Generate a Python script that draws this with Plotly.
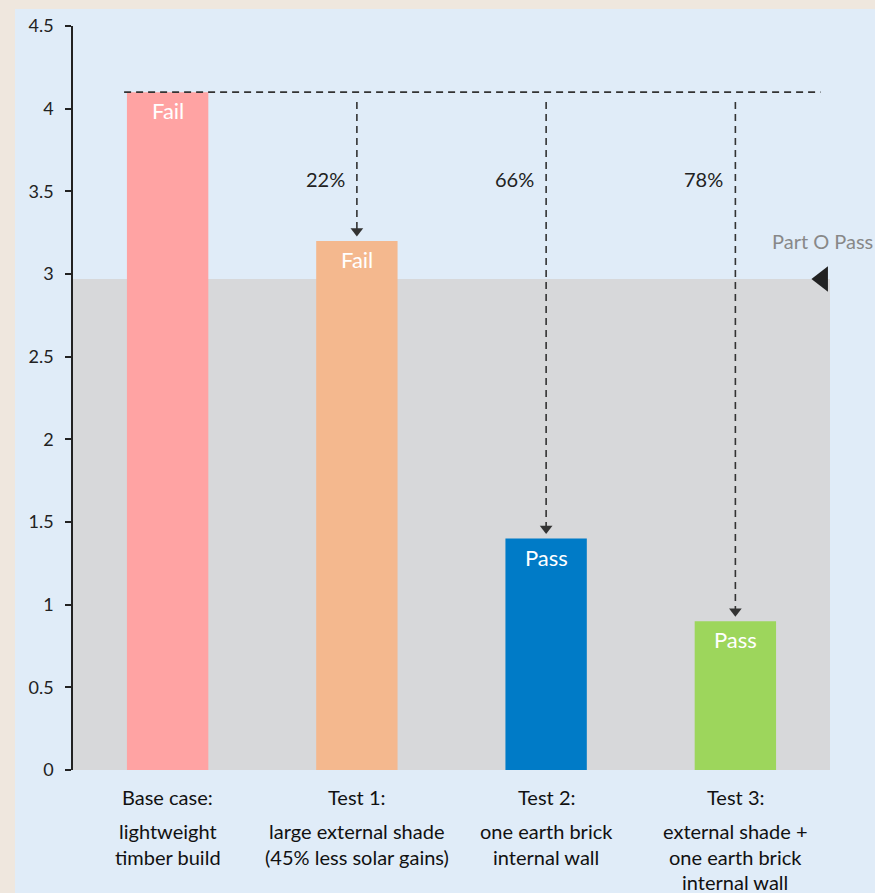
import plotly.graph_objects as go

categories = ["Base case", "Test 1", "Test 2", "Test 3"]
values = [4.1, 3.2, 1.4, 0.9]
bar_colors = ["#ffa3a3", "#f4b88e", "#007bc7", "#9dd65c"]
status = ["Fail", "Fail", "Pass", "Pass"]
reductions = ["", "22%", "66%", "78%"]
label_titles = ["Base case:", "Test 1:", "Test 2:", "Test 3:"]
label_desc = [
    ["lightweight", "timber build"],
    ["large external shade", "(45% less solar gains)"],
    ["one earth brick", "internal wall"],
    ["external shade +", "one earth brick", "internal wall"],
]
threshold = 2.97
threshold_label = "Part O Pass"
y_ticks = [0, 0.5, 1, 1.5, 2, 2.5, 3, 3.5, 4, 4.5]
y_ticktext = ["0", "0.5", "1", "1.5", "2", "2.5", "3", "3.5", "4", "4.5"]

FONT = "Lato"
xs = list(range(len(categories)))

fig = go.Figure()
fig.add_trace(go.Bar(x=xs, y=values, marker=dict(color=bar_colors, line=dict(width=0)),
                     width=0.43, showlegend=False, hoverinfo="skip"))

# horizontal dashed line at base value
fig.add_trace(go.Scatter(x=[-0.23, 3.45], y=[values[0], values[0]], mode="lines",
                         line=dict(color="#333333", width=1.6, dash="7px,5px"),
                         showlegend=False, hoverinfo="skip"))
# vertical dashed arrows
for i in range(1, len(values)):
    fig.add_trace(go.Scatter(x=[xs[i], xs[i]], y=[values[0] - 0.06, values[i] + 0.07], mode="lines",
                             line=dict(color="#333333", width=1.6, dash="7px,5px"),
                             showlegend=False, hoverinfo="skip"))
    fig.add_trace(go.Scatter(x=[xs[i]], y=[values[i] + 0.06], mode="markers",
                             marker=dict(symbol="triangle-down", size=11, color="#333333"),
                             showlegend=False, hoverinfo="skip", cliponaxis=False))
    fig.add_annotation(x=xs[i], y=3.575, text=reductions[i], showarrow=False,
                       xanchor="right", xshift=-10, font=dict(family=FONT, size=20, color="#222222"))

# threshold marker
fig.add_trace(go.Scatter(x=[3.46], y=[threshold], mode="markers",
                         marker=dict(symbol="triangle-left", size=22, color="#222222"),
                         showlegend=False, hoverinfo="skip", cliponaxis=False))
fig.add_annotation(x=3.185, y=3.2, text=threshold_label, showarrow=False, xanchor="left",
                   font=dict(family=FONT, size=20, color="#888888"))

# status labels in bars
for i, v in enumerate(values):
    fig.add_annotation(x=xs[i], y=v, text=status[i], showarrow=False, yanchor="top", yshift=-3,
                       font=dict(family=FONT, size=22, color="white"))

# category labels
for i in xs:
    fig.add_annotation(x=xs[i], y=0, yref="paper", text=label_titles[i], showarrow=False,
                       yanchor="middle", yshift=-27, font=dict(family=FONT, size=20, color="#111111"))
    for j, line in enumerate(label_desc[i]):
        fig.add_annotation(x=xs[i], y=0, yref="paper", text=line, showarrow=False,
                           yanchor="middle", yshift=-(61 + 25.5 * j),
                           font=dict(family=FONT, size=20, color="#111111"))

# panel and threshold band
fig.add_shape(type="rect", xref="paper", yref="paper", x0=-0.0766, x1=1.2, y0=-0.3, y1=1.0228,
              fillcolor="#e0ecf8", line=dict(width=0), layer="below")
fig.add_shape(type="rect", xref="x", yref="y", x0=-0.5, x1=3.5, y0=0, y1=threshold,
              fillcolor="#d7d8da", line=dict(width=0), layer="below")

fig.update_layout(
    width=875, height=893,
    margin=dict(l=73, r=45, t=26, b=123),
    paper_bgcolor="#efe7de",
    plot_bgcolor="rgba(0,0,0,0)",
    font=dict(family=FONT, size=18, color="#222222"),
    bargap=0.57,
    xaxis=dict(range=[-0.5, 3.5], showticklabels=False, showgrid=False, zeroline=False,
               showline=False, ticks=""),
    yaxis=dict(range=[0, 4.5], tickvals=y_ticks, ticktext=y_ticktext, showgrid=False,
               zeroline=False, showline=True, linecolor="#222222", linewidth=1.5,
               ticks="outside", ticklen=6, tickwidth=1.5, tickcolor="#222222",
               ticklabelstandoff=8,
               tickfont=dict(family=FONT, size=18, color="#222222")),
)

fig.write_html("out.html")
